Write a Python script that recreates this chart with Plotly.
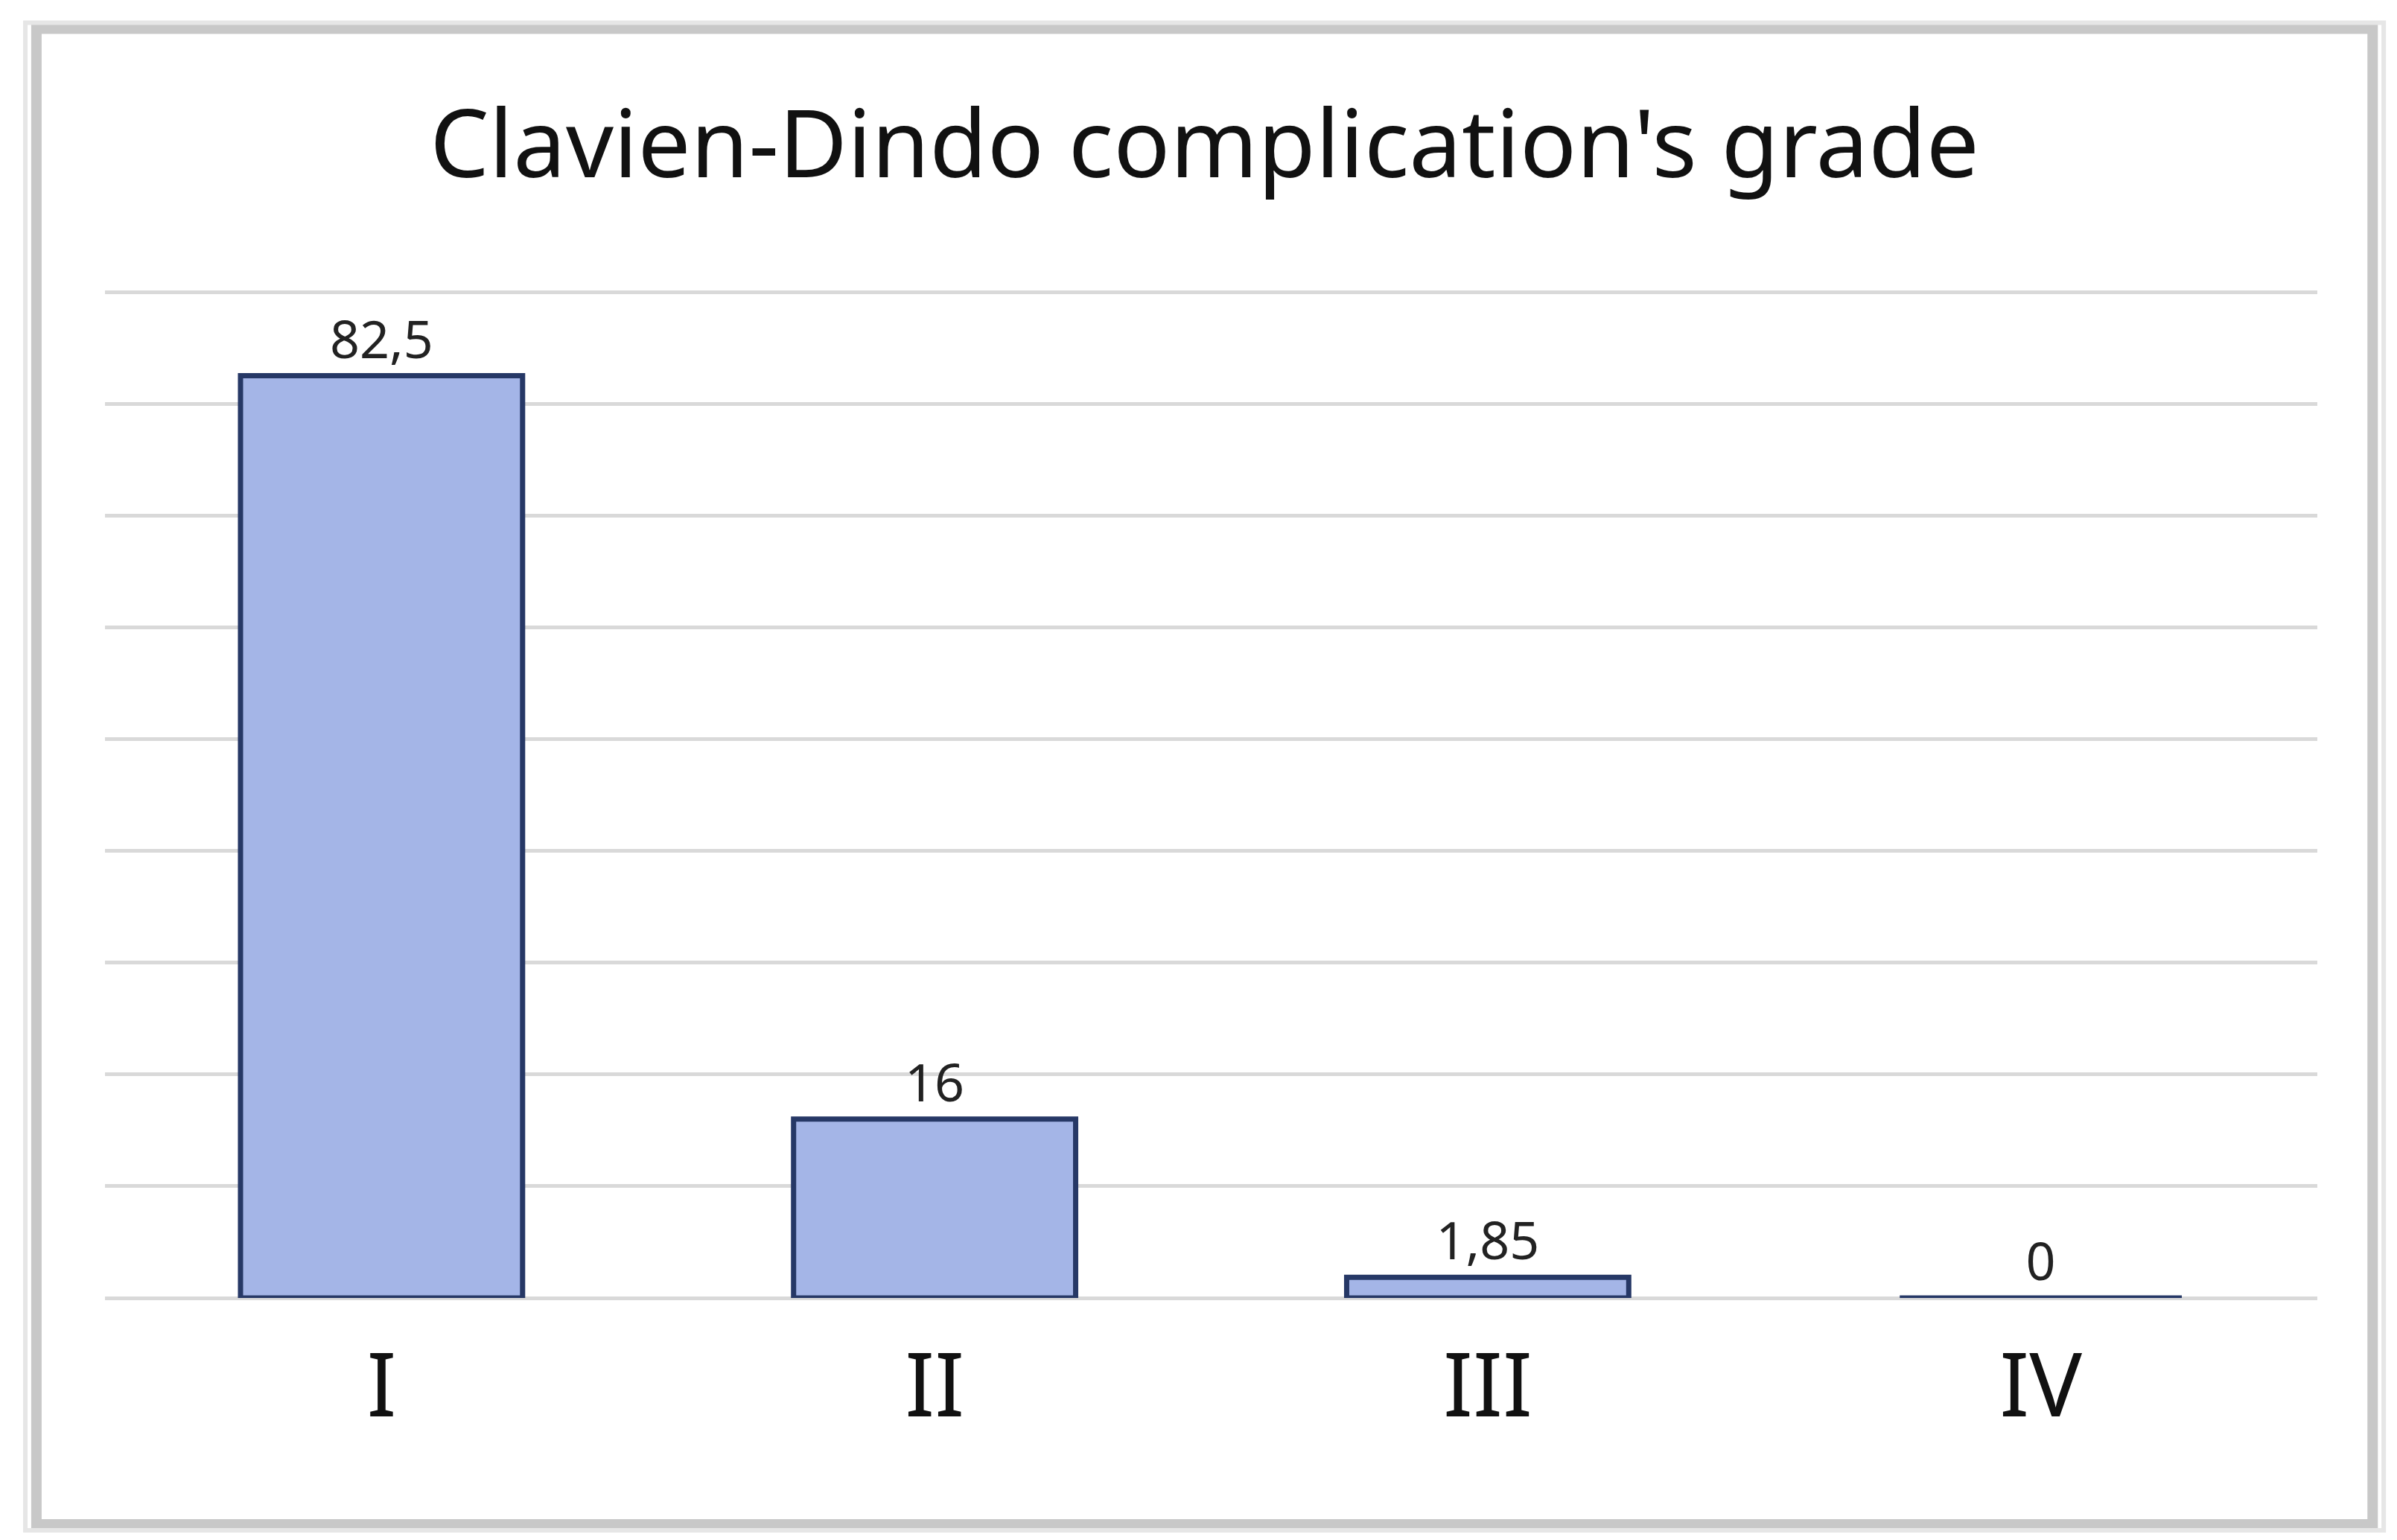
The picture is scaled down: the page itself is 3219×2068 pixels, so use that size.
import plotly.graph_objects as go

# Chart data
grades = ["I", "II", "III", "IV"]
percent = [82.5, 16, 1.85, 0]
percent_labels = ["82,5", "16", "1,85", "0"]

FONT = "Noto Sans, DejaVu Sans, sans-serif"

fig = go.Figure()

fig.add_trace(go.Bar(x=grades,
                     y=percent,
                     text=percent_labels,
                     textposition="outside",
                     textfont=dict(size=70, color="#222222", family=FONT),
                     cliponaxis=False,
                     width=0.51,
                     marker=dict(color="#a4b5e7",
                                 line=dict(color="#263866", width=7))))

fig.update_layout(width=3219, height=2068,
                  paper_bgcolor="white", plot_bgcolor="white",
                  font=dict(family=FONT, color="#111111"),
                  title=dict(text="Clavien-Dindo complication's grade",
                             x=0.5, xanchor="center", y=0.91, yanchor="middle",
                             font=dict(size=126, color="#111111", family=FONT)),
                  margin=dict(l=133, r=115, t=378, b=333),
                  showlegend=False)

fig.update_xaxes(showline=False, ticks="", ticklabelstandoff=40,
                 tickfont=dict(size=118, color="#111111", family=FONT))
fig.update_yaxes(range=[0, 90.4], dtick=10, showticklabels=False,
                 gridcolor="#d9d9d9", gridwidth=5, zeroline=True,
                 zerolinecolor="#d9d9d9", zerolinewidth=5)

# Frame around the chart, with a soft shadow
fig.add_shape(type="rect", xref="paper", yref="paper",
              x0=-0.031, x1=1.025, y0=-0.224, y1=1.256,
              line=dict(color="#c8c8c8", width=14), layer="below")
fig.add_shape(type="rect", xref="paper", yref="paper",
              x0=-0.036, x1=1.03, y0=-0.230, y1=1.262,
              line=dict(color="#e6e6e6", width=6), layer="below")

fig.write_html("out.html")
